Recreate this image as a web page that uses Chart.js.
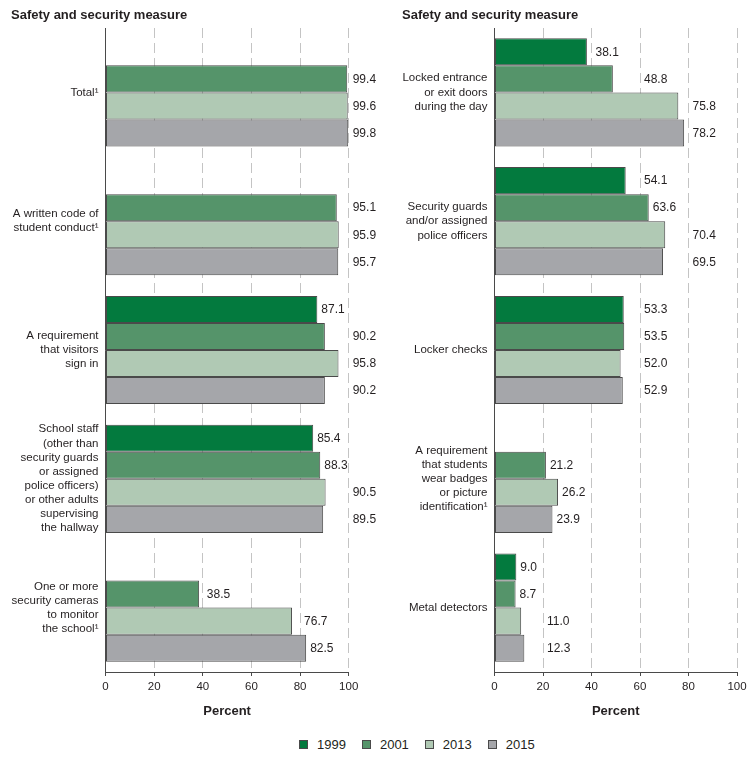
<!DOCTYPE html>
<html>
<head>
<meta charset="utf-8">
<script src="https://cdn.jsdelivr.net/npm/chart.js@4"></script>
<style>
  html, body { margin:0; padding:0; background:#fff; }
  body { width:750px; height:759px; position:relative; overflow:hidden; font-family:"Liberation Sans", Arial, sans-serif; color:#231f20; }
  #c1 { position:absolute; left:0; top:0; }
  #c2 { position:absolute; left:375px; top:0; }
  #legend { position:absolute; left:299px; top:736px; height:16px; display:flex; align-items:center; font-size:13px; }
  .item { display:flex; align-items:center; margin-right:16px; }
  .box { width:7px; height:7px; border:1px solid #4a4a4a; margin-right:9px; }
</style>
</head>
<body>
<canvas id="c1" width="400" height="730"></canvas>
<canvas id="c2" width="375" height="730"></canvas>
<div id="legend"></div>
<script>
// ---- data ----
const SERIES = ['1999', '2001', '2013', '2015'];
const COLORS = ['#037a3e', '#55946a', '#b0c9b4', '#a5a6aa'];

const L_CATS = [
  ['Total¹'],
  ['A written code of', 'student conduct¹'],
  ['A requirement', 'that visitors', 'sign in'],
  ['School staff', '(other than', 'security guards', 'or assigned', 'police officers)', 'or other adults', 'supervising', 'the hallway'],
  ['One or more', 'security cameras', 'to monitor', 'the school¹']
];
const L_1999 = [null, null, 87.1, 85.4, null];
const L_2001 = [99.4, 95.1, 90.2, 88.3, 38.5];
const L_2013 = [99.6, 95.9, 95.8, 90.5, 76.7];
const L_2015 = [99.8, 95.7, 90.2, 89.5, 82.5];

const R_CATS = [
  ['Locked entrance', 'or exit doors', 'during the day'],
  ['Security guards', 'and/or assigned', 'police officers'],
  ['Locker checks'],
  ['A requirement', 'that students', 'wear badges', 'or picture', 'identification¹'],
  ['Metal detectors']
];
const R_1999 = [38.1, 54.1, 53.3, null, 9.0];
const R_2001 = [48.8, 63.6, 53.5, 21.2, 8.7];
const R_2013 = [75.8, 70.4, 52.0, 26.2, 11.0];
const R_2015 = [78.2, 69.5, 52.9, 23.9, 12.3];

const TICKS = [0, 20, 40, 60, 80, 100];
const TITLE = 'Safety and security measure';
const X_TITLE = 'Percent';

// ---- setup ----
const FONT = '"Liberation Sans", Arial, sans-serif';
Chart.defaults.font.family = FONT;
Chart.defaults.color = '#231f20';

const valueLabels = {
  id: 'valueLabels',
  afterDatasetsDraw(chart) {
    const ctx = chart.ctx;
    const xs = chart.scales.x;
    const grids = TICKS.filter(t => t > 0).map(t => xs.getPixelForValue(t));
    ctx.save();
    ctx.font = '12px ' + FONT;
    ctx.fillStyle = '#231f20';
    ctx.textBaseline = 'middle';
    ctx.textAlign = 'left';
    chart.data.datasets.forEach((ds, di) => {
      const meta = chart.getDatasetMeta(di);
      meta.data.forEach((bar, i) => {
        const v = ds.data[i];
        if (v === null || v === undefined) return;
        const txt = v.toFixed(1);
        const w = ctx.measureText(txt).width;
        let x = bar.x + 4;
        for (const g of grids) {
          if (g >= bar.x - 0.5 && g <= x + w + 0.7) { x = g + 4; }
        }
        ctx.fillText(txt, x, bar.y + 0.5);
      });
    });
    ctx.restore();
  }
};

function makeChart(id, cats, data, padLeft, padRight, yWidth) {
  const datasets = SERIES.map((s, k) => ({
    label: s,
    data: data[k],
    backgroundColor: COLORS[k],
    borderColor: '#4a4a4a',
    borderWidth: 1,
    borderSkipped: false,
    categoryPercentage: 0.84,
    barPercentage: 1.0
  }));
  return new Chart(document.getElementById(id), {
    type: 'bar',
    data: { labels: cats, datasets },
    plugins: [valueLabels],
    options: {
      indexAxis: 'y',
      responsive: false,
      animation: false,
      layout: { padding: { left: padLeft, right: padRight, top: 0, bottom: 0 } },
      plugins: {
        legend: { display: false },
        tooltip: { enabled: false },
        title: {
          display: true,
          text: TITLE,
          align: 'start',
          color: '#231f20',
          font: { size: 13, weight: 'bold', lineHeight: 1.2 },
          padding: { top: 7.2, bottom: 5.2 }
        }
      },
      scales: {
        x: {
          min: 0, max: 100,
          afterBuildTicks(scale) { scale.ticks = TICKS.map(v => ({ value: v })); },
          afterFit(scale) { scale.height = 58; scale.paddingLeft = 0; scale.paddingRight = 0; },
          ticks: { color: '#231f20', font: { size: 11.5 }, padding: 4, maxRotation: 0 },
          grid: {
            color: '#c4c4c4',
            lineWidth: 1,
            tickColor: '#4a4a4a',
            tickLength: 4,
            tickBorderDash: [],
            drawTicks: true
          },
          border: { display: true, color: '#4a4a4a', width: 1, dash: [10, 5] },
          title: {
            display: true,
            text: X_TITLE,
            color: '#231f20',
            font: { size: 13, weight: 'bold', lineHeight: 1.2 },
            padding: { top: 0, bottom: 11.2 }
          }
        },
        y: {
          afterFit(scale) { scale.width = yWidth; scale.paddingTop = 0; scale.paddingBottom = 0; },
          grid: { display: false, drawTicks: false },
          border: { display: true, color: '#4a4a4a', width: 1 },
          ticks: { color: '#231f20', font: { size: 11.5, lineHeight: 1.23 }, padding: 7, autoSkip: false }
        }
      }
    }
  });
}

makeChart('c1', L_CATS, [L_1999, L_2001, L_2013, L_2015], 11, 51.3, 94.5);
makeChart('c2', R_CATS, [R_1999, R_2001, R_2013, R_2015], 27, 13, 92.5);

// ---- legend ----
const lg = document.getElementById('legend');
SERIES.forEach((s, k) => {
  const it = document.createElement('div');
  it.className = 'item';
  const b = document.createElement('span');
  b.className = 'box';
  b.style.background = COLORS[k];
  const t = document.createElement('span');
  t.textContent = s;
  it.appendChild(b); it.appendChild(t);
  lg.appendChild(it);
});
</script>
</body>
</html>
